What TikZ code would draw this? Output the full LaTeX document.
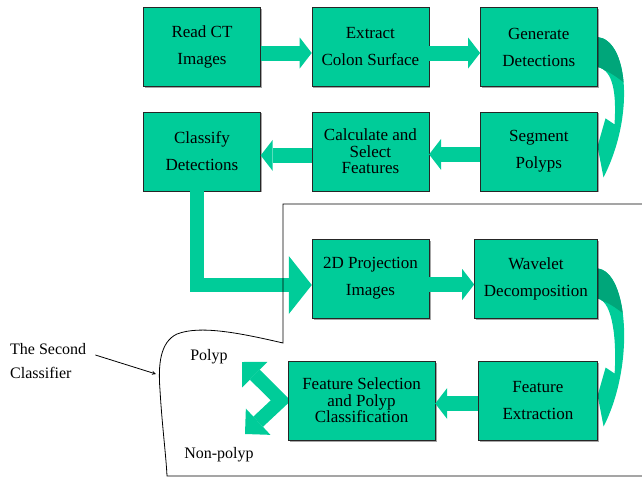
\documentclass[tikz,border=0pt]{standalone}
\usepackage{fontspec}
\setmainfont{Liberation Serif}
\usetikzlibrary{positioning, calc, arrows.meta, shadows, backgrounds}
\definecolor{boxgreen}{RGB}{0,204,153}
\definecolor{darkgreen}{RGB}{0,166,122}
\tikzstyle{stepbox} = [rectangle, minimum width=117pt, minimum height=79pt, text centered, align=center, draw=black!85, fill=boxgreen, drop shadow={shadow xshift=1.5pt, shadow yshift=-1.5pt, fill=black, opacity=0.35}, font=\fontsize{17}{27}\selectfont]
\tikzstyle{tightbox} = [stepbox, font=\fontsize{17}{16.5}\selectfont]
\tikzstyle{blockarrow} = [draw=boxgreen, line width=15pt, -{Triangle[line width=0pt, width=31pt, length=12pt]}]
\tikzstyle{bigarrow} = [draw=boxgreen, line width=14pt, -{Triangle[line width=0pt, width=58pt, length=23pt]}]
\tikzstyle{forkarrow} = [draw=boxgreen, line width=14pt, {Triangle[line width=0pt, width=36pt, length=18pt]}-{Triangle[line width=0pt, width=36pt, length=18pt]}]
\tikzstyle{outline} = [line width=0.8pt, draw=black]
\tikzstyle{textlabel} = [font=\fontsize{16}{24}\selectfont, inner sep=0pt]
% curved arrow down the right side, from one box to the box below it
\newcommand{\bendarrow}[2]{%
  \coordinate (s) at ($(#1.east)+(0,-10)$);
  \coordinate (e) at ($(#1.east)+(0,20)$);
  \coordinate (t) at ($(#2.east)+(6,26)$);
  \coordinate (l) at ($(#2.east)+(0,-5)$);
  \coordinate (b) at ($(#2.east)+(8,-33)$);
  \coordinate (i) at ($(#2.east)+(17,-27)$);
  \begin{scope}
    \clip (s) .. controls ($(s)+(30,3)$) and ($(t)+(32,-63)$) .. (t) -- (l) -- (b) -- (i) .. controls ($(i)+(2,-30)$) and ($(e)+(16,3)$) .. (e) -- cycle;
    \fill[boxgreen] ($(s)+(-2,-2)$) rectangle ($(t)+(40,2)$);
    \fill[darkgreen] ($(s)+(-2,-5)$) -- ($(s)+(45,-5)$) -- ($(s)+(45,60)$) .. controls ($(s)+(25,45)$) and ($(e)+(12,2)$) .. ($(e)+(-2,1)$) -- cycle;
  \end{scope}}

\begin{document}
\begin{tikzpicture}[x=1pt, y=-1pt]
\useasboundingbox (0,0) rectangle (642,477);

% first classifier
\node (read) [stepbox] at (202,47) {Read CT\\Images};
\node (extract) [stepbox, right=51pt of read] {Extract\\Colon Surface};
\node (generate) [stepbox, right=51pt of extract] {Generate\\Detections};
\node (classify) [stepbox, below=25pt of read] {Classify\\Detections};
\node (calc) [tightbox, below=25pt of extract] {Calculate and\\Select\\Features};
\node (segment) [stepbox, below=25pt of generate] {Segment\\Polyps};

% second classifier
\node (proj) [stepbox] at (370.5,278.5) {2D Projection\\Images};
\node (wavelet) [stepbox, minimum width=123pt, right=45pt of proj] {Wavelet\\Decomposition};
\node (fsel) [tightbox, minimum width=147pt] at (361.5,400.5) {Feature Selection\\and Polyp\\Classification};
\node (fext) [stepbox, minimum width=119pt, right=43pt of fsel] {Feature\\Extraction};

\node (polyptext) [textlabel] at (209,357) {Polyp};
\node (nonpolyptext) [textlabel] at (219,455) {Non-polyp};
\node (second) [textlabel, align=left, anchor=west] at (10,361) {The Second\\Classifier};
\coordinate (polyp) at (242,362);
\coordinate (nonpolyp) at (245,434);
\coordinate (bound) at (156,374);

\draw [blockarrow] ([yshift=-6pt]read.east) -- ([yshift=-6pt]extract.west);
\draw [blockarrow] ([yshift=-6pt]extract.east) -- ([yshift=-6pt]generate.west);
\draw [blockarrow] ([yshift=-3pt]segment.west) -- ([yshift=-3pt]calc.east);
\draw [blockarrow] ([yshift=-4pt]calc.west) -- ([yshift=-4pt]classify.east);
\draw [blockarrow] ([yshift=-6pt]proj.east) -- ([yshift=-6pt]wavelet.west);
\draw [blockarrow] ([yshift=-3pt]fext.west) -- ([yshift=-3pt]fsel.east);
\draw [bigarrow] ([xshift=-5.5pt]classify.south) |- ([yshift=-6.5pt]proj.west);

\begin{scope}[on background layer]
\bendarrow{generate}{segment}
\bendarrow{wavelet}{fext}
\draw [forkarrow] (polyp) -- ([xshift=-7pt]fsel.west) -- (nonpolyp);
\end{scope}

% boundary of the second classifier
\draw [outline] (642,204) -- (283,204) -- (283,343) .. controls (240,333) and (200,325) .. (177,334) .. controls (160,342) and (158,365) .. (160,390) .. controls (162,425) and (166,455) .. (167,476) -- (642,476);
\draw [-stealth, line width=0.8pt] ($(second.east)+(9,-6)$) -- (bound);
\end{tikzpicture}
\end{document}
